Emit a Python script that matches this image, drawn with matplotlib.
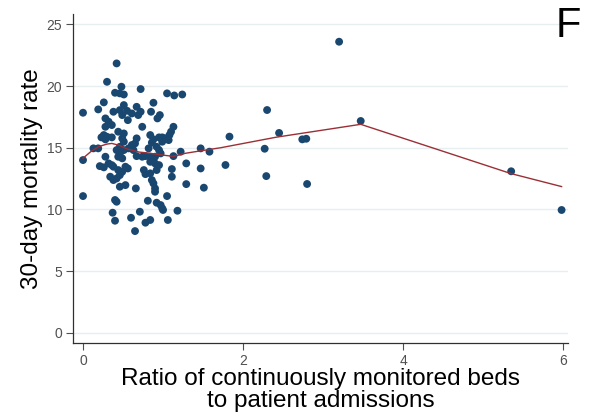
import numpy as np
import matplotlib
matplotlib.use('Agg')
import matplotlib.pyplot as plt

plt.rcParams['font.family'] = ['Liberation Sans', 'DejaVu Sans']

# ratio of monitored beds to admissions vs 30-day mortality
ratio = [0.42, 0.30, 0.48, 0.40, 0.46, 0.51, 0.72, 1.05, 1.14, 1.24,
         0.26, 0.00, 0.19, 0.51, 0.46, 0.55, 0.38, 0.49, 0.61, 0.67,
         0.69, 0.72, 0.88, 0.85, 0.96, 0.93, 0.28, 0.32, 0.36, 0.28,
         0.56, 1.13, 1.10, 1.08, 0.74, 0.44, 0.51, 0.26, 0.30, 0.23,
         0.28, 0.36, 0.84, 0.95, 0.99, 1.03, 0.99, 1.07, 0.88, 0.86,
         0.67, 0.65, 0.49, 0.51, 0.46, 0.13, 0.19, 0.61, 0.57, 0.63,
         0.42, 0.46, 0.51, 0.44, 0.49, 0.82, 0.92, 0.95, 0.78, 0.84,
         0.90, 0.97, 0.67, 0.74, 0.28, 1.22, 1.13, 1.47, 1.58, 1.29,
         0.00, 0.32, 0.36, 0.38, 0.21, 0.26, 0.53, 0.56, 0.44, 0.49,
         0.84, 0.90, 0.95, 0.92, 1.11, 1.11, 0.76, 0.78, 0.84, 1.47,
         0.34, 0.38, 0.42, 0.46, 0.86, 0.88, 0.90, 0.90, 0.53, 0.46,
         1.29, 1.51, 0.66, 0.00, 1.05, 0.40, 0.42, 0.81, 0.92, 0.97,
         0.99, 1.00, 0.37, 0.71, 1.18, 0.40, 0.60, 0.78, 0.84, 1.06,
         0.65,
         1.83, 2.30, 2.45, 2.74, 2.79, 3.20, 3.47, 2.27, 1.78, 2.29,
         2.80, 5.35, 5.98]
mortality = [21.84, 20.35, 19.95, 19.46, 19.41, 19.32, 19.76, 19.41, 19.24, 19.32,
             18.68, 17.84, 18.11, 18.46, 18.05, 18.00, 17.92, 17.65, 17.78, 18.32,
             17.65, 17.92, 18.65, 17.92, 17.65, 17.38, 17.38, 17.11, 16.84, 16.70,
             17.24, 16.70, 16.30, 16.03, 16.70, 16.30, 16.16, 16.03, 15.89, 15.84,
             15.68, 15.84, 16.03, 15.84, 15.84, 15.76, 15.49, 15.62, 15.68, 15.41,
             15.76, 15.35, 15.76, 15.49, 15.08, 14.95, 14.95, 15.22, 14.95, 14.81,
             14.81, 14.54, 14.81, 14.27, 14.14, 14.95, 15.08, 14.81, 14.32, 14.27,
             14.27, 14.54, 14.32, 14.27, 14.27, 14.68, 14.32, 14.95, 14.68, 13.73,
             14.00, 13.73, 13.59, 13.46, 13.51, 13.41, 13.46, 13.32, 13.19, 13.05,
             13.86, 13.73, 13.59, 13.19, 13.27, 12.65, 13.19, 12.86, 12.92, 13.32,
             12.65, 12.38, 12.51, 12.78, 12.38, 12.11, 11.70, 11.43, 11.97, 11.84,
             12.05, 11.76, 11.70, 11.08, 11.08, 10.76, 10.62, 10.70, 10.54, 10.35,
             10.08, 9.95, 9.73, 9.81, 9.89, 9.08, 9.32, 8.92, 9.14, 9.14,
             8.24,
             15.90, 18.06, 16.20, 15.68, 15.73, 23.60, 17.17, 14.92, 13.60, 12.70,
             12.06, 13.09, 9.95]

# lowess smooth as drawn
fit_x = [0.00, 0.10, 0.20, 0.30, 0.36, 0.45, 0.55, 0.70, 0.84, 1.00,
         1.13, 1.28, 1.47, 1.72, 2.41, 3.47, 5.35, 5.98]
fit_y = [14.15, 14.70, 15.10, 15.30, 15.35, 15.20, 14.90, 14.65, 14.55, 14.40,
         14.30, 14.55, 14.75, 15.00, 15.85, 16.90, 12.90, 11.85]

xticks = [0, 2, 4, 6]
yticks = [0, 5, 10, 15, 20, 25]

fig = plt.figure(figsize=(5.96, 4.2), dpi=100)
ax = fig.add_axes([0.1225, 0.1833, 0.8305, 0.7834])

for t in yticks:
    ax.axhline(t, color='#e6eef0', lw=1, zorder=0)

ax.scatter(ratio, mortality, s=32, color='#1a476f', edgecolors='none', zorder=3)
ax.plot(fit_x, fit_y, color='#9b2f35', lw=1, zorder=4)

ax.set_xlim(-0.125, 6.06)
ax.set_ylim(-0.84, 25.85)
ax.set_xticks(xticks)
ax.set_yticks(yticks)
ax.tick_params(colors='#505050', labelsize=10, length=5, width=0.8, pad=3)
for side in ['top', 'right']:
    ax.spines[side].set_visible(False)
for side in ['left', 'bottom']:
    ax.spines[side].set_color('#303030')
    ax.spines[side].set_linewidth(0.9)

ax.set_ylabel('30-day mortality rate', fontsize=17.5, labelpad=2)
ax.set_xlabel('Ratio of continuously monitored beds\nto patient admissions',
              fontsize=17.5, labelpad=0, linespacing=1.0)

fig.text(0.975, 0.985, 'F', ha='right', va='top', fontsize=30)

fig.savefig('out.png', dpi=100)
